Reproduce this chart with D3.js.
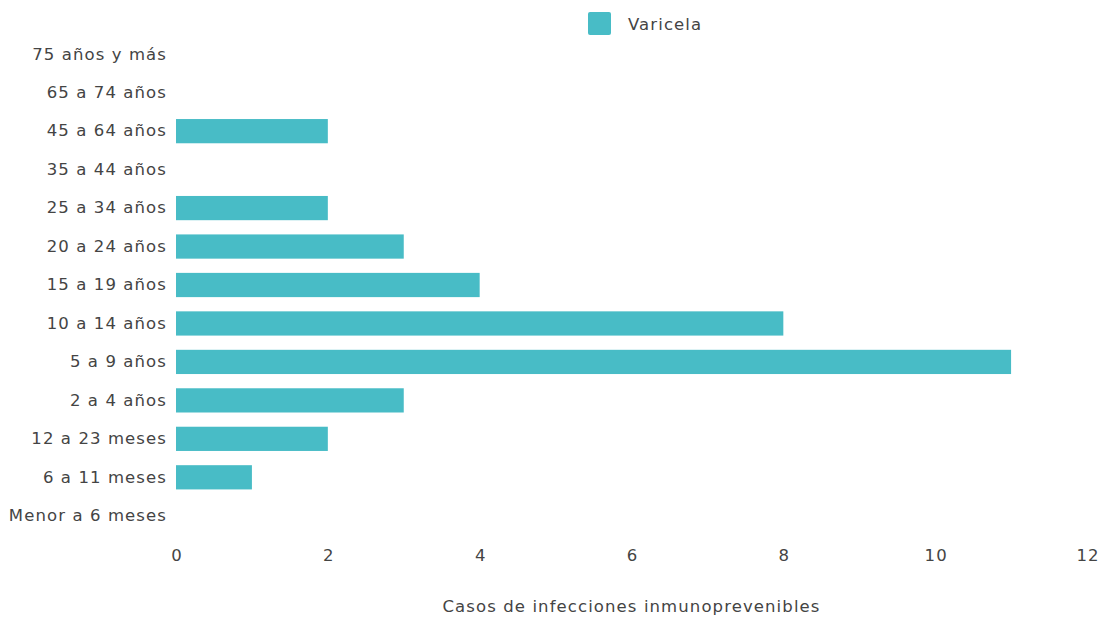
<!DOCTYPE html>
<html>
<head>
<meta charset="utf-8">
<script src="https://cdn.jsdelivr.net/npm/d3@7"></script>
<style>
  html, body { margin: 0; padding: 0; background: #fff; }
  svg { display: block; font-family: "DejaVu Sans", Verdana, sans-serif; }
  .lbl { font-size: 16.5px; letter-spacing: 1.1px; fill: #444; }
</style>
</head>
<body>
<svg id="chart" width="1103" height="618"></svg>
<script>
// Age groups, bottom to top as drawn on the vertical axis
const categories = [
  "Menor a 6 meses", "6 a 11 meses", "12 a 23 meses", "2 a 4 años",
  "5 a 9 años", "10 a 14 años", "15 a 19 años", "20 a 24 años",
  "25 a 34 años", "35 a 44 años", "45 a 64 años", "65 a 74 años",
  "75 años y más"
];
// Varicela cases per age group
const varicela = [0, 1, 2, 3, 11, 8, 4, 3, 2, 0, 2, 0, 0];
const xTicks = [0, 2, 4, 6, 8, 10, 12];
const seriesName = "Varicela";
const xTitle = "Casos de infecciones inmunoprevenibles";

const svg = d3.select("#chart");
const color = "#48bcc6";

const x = d3.scaleLinear().domain([0, 12]).range([176, 1087]);
const y = d3.scaleBand()
  .domain(categories.slice().reverse())
  .range([35, 535])
  .paddingInner(0.37)
  .paddingOuter(0.185);

// bars
svg.append("g").selectAll("rect")
  .data(categories.map((c, i) => ({ c, v: varicela[i] })).filter(d => d.v > 0))
  .join("rect")
  .attr("x", x(0))
  .attr("y", d => y(d.c))
  .attr("width", d => x(d.v) - x(0))
  .attr("height", y.bandwidth())
  .attr("fill", color);

// category axis
const yAxis = svg.append("g")
  .attr("transform", `translate(${x(0)},0)`)
  .call(d3.axisLeft(y).tickSize(0).tickPadding(9));
yAxis.select(".domain").remove();
yAxis.selectAll("text")
  .attr("class", "lbl")
  .attr("font-size", null)
  .attr("fill", null);
yAxis.attr("font-family", null).attr("font-size", null);

// value axis
const xAxis = svg.append("g")
  .attr("transform", "translate(0,549)")
  .call(d3.axisBottom(x).tickValues(xTicks).tickSize(0).tickPadding(0).tickFormat(d3.format("d")));
xAxis.select(".domain").remove();
xAxis.attr("font-family", null).attr("font-size", null);
xAxis.selectAll("text")
  .attr("class", "lbl")
  .attr("fill", null)
  .attr("dy", "0.71em")
  .attr("dx", "0.55px");

// axis title
svg.append("text")
  .attr("class", "lbl")
  .attr("x", (x(0) + x(12)) / 2)
  .attr("y", 606)
  .attr("dy", "0.35em")
  .attr("text-anchor", "middle")
  .text(xTitle);

// legend
const legend = svg.append("g").attr("transform", "translate(588,12)");
legend.append("rect")
  .attr("width", 23).attr("height", 23)
  .attr("rx", 2).attr("ry", 2)
  .attr("fill", color);
legend.append("text")
  .attr("class", "lbl")
  .attr("x", 40).attr("y", 12)
  .attr("dy", "0.35em")
  .text(seriesName);
</script>
</body>
</html>
